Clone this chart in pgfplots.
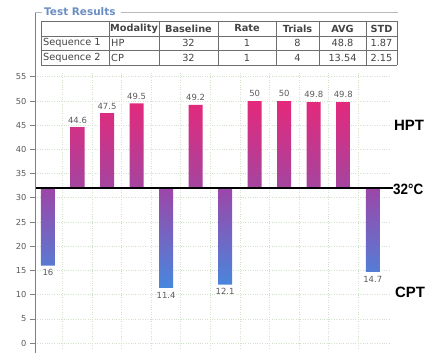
\documentclass[border=0pt]{standalone}
\usepackage{fontspec}
\setmainfont{DejaVu Sans}
\newfontfamily\labfont{Liberation Sans}
\usepackage{pgfplots}
\pgfplotsset{compat=1.18}
\definecolor{hpTop}{HTML}{E4297B}
\definecolor{hpBot}{HTML}{A4459F}
\definecolor{cpTop}{HTML}{9C46A8}
\definecolor{cpBot}{HTML}{4788DE}
\definecolor{gridc}{HTML}{D2E2CC}
\definecolor{tickc}{HTML}{5A5A5A}
\definecolor{axc}{HTML}{808080}
\definecolor{boxc}{HTML}{B8B8B8}
\definecolor{titc}{HTML}{6A8EC4}
\definecolor{tabc}{HTML}{6E6E6E}
\definecolor{txtc}{HTML}{444444}
\begin{document}
\begin{tikzpicture}[x=1bp,y=1bp]
\useasboundingbox (0,0) rectangle (429,353);
\begin{axis}[
  at={(35bp,5bp)}, anchor=south west,
  scale only axis, width=354bp, height=276bp,
  xmin=0.56, xmax=12.55, ymin=-33, ymax=24,
  y filter/.expression={y-32},
  axis line style={draw=none},
  ytick={-32,-27,-22,-17,-12,-7,-2,3,8,13,18,23},
  yticklabels={0,5,10,15,20,25,30,35,40,45,50,55},
  ytick pos=left, tick align=outside, major tick length=5bp,
  y tick style={color=axc, line width=0.8bp},
  xtick={1.5,2.5,...,11.5}, xticklabels={}, x tick style={draw=none},
  grid=major, major grid style={dotted, color=gridc, line width=0.8bp},
  yticklabel style={font=\fontsize{8.3}{9}\selectfont, text=tickc},
  clip=false,
  bar width=14bp,
]
\addplot[ybar, bar shift=0pt, draw=none, top color=hpTop, bottom color=hpBot,
  point meta=explicit symbolic, nodes near coords={\pgfplotspointmeta},
  nodes near coords style={font=\fontsize{8.5}{9}\selectfont, text=tickc, anchor=south, yshift=0.5bp}]
  coordinates {(2,44.6)[44.6] (3,47.5)[47.5] (4,49.5)[49.5] (6,49.2)[49.2] (8,50)[50] (9,50)[50] (10,49.8)[49.8] (11,49.8)[49.8]};
\addplot[ybar, bar shift=0pt, draw=none, top color=cpTop, bottom color=cpBot,
  point meta=explicit symbolic, nodes near coords={\pgfplotspointmeta},
  nodes near coords style={font=\fontsize{8.5}{9}\selectfont, text=tickc, anchor=north, yshift=-0.5bp}]
  coordinates {(1,16)[16] (5,11.4)[11.4] (7,12.1)[12.1] (12,14.7)[14.7]};
\addplot[black, line width=1.5bp, no marks, forget plot] coordinates {(0.56,32) (12.67,32)};
\end{axis}
% axis line and group box
\draw[axc, line width=1bp] (35,340.5) -- (35,0);
\draw[boxc, line width=1bp] (35,340.5) -- (42,340.5);
\draw[boxc, line width=1bp] (121,340.5) -- (398,340.5);
\node[anchor=west, inner sep=0pt, text=titc, font=\fontsize{10.5}{12}\selectfont\bfseries] at (44,341) {Test Results};
% table
\foreach \x in {41,109,159,218,276,319,366,397} \draw[tabc, line width=0.8bp] (\x,332) -- (\x,288);
\foreach \y in {332,317,303,288} \draw[tabc, line width=0.8bp] (41,\y) -- (397,\y);
\begin{scope}[every node/.style={inner sep=0pt, text=txtc, font=\fontsize{9.8}{11}\selectfont}]
\node[font=\fontsize{9.8}{11}\selectfont\bfseries] at (134,324.5) {Modality};
\node[font=\fontsize{9.8}{11}\selectfont\bfseries] at (188.5,324.5) {Baseline};
\node[font=\fontsize{9.8}{11}\selectfont\bfseries] at (247,324.5) {Rate};
\node[font=\fontsize{9.8}{11}\selectfont\bfseries] at (297.5,324.5) {Trials};
\node[font=\fontsize{9.8}{11}\selectfont\bfseries] at (342.5,324.5) {AVG};
\node[font=\fontsize{9.8}{11}\selectfont\bfseries] at (381.5,324.5) {STD};
\node[anchor=west] at (43,310) {Sequence 1};
\node[anchor=west] at (111,310) {HP};
\node at (188.5,310) {32};
\node at (247,310) {1};
\node at (297.5,310) {8};
\node at (342.5,310) {48.8};
\node at (381.5,310) {1.87};
\node[anchor=west] at (43,295.5) {Sequence 2};
\node[anchor=west] at (111,295.5) {CP};
\node at (188.5,295.5) {32};
\node at (247,295.5) {1};
\node at (297.5,295.5) {4};
\node at (342.5,295.5) {13.54};
\node at (381.5,295.5) {2.15};
\end{scope}
% side labels
\begin{scope}[every node/.style={inner sep=0pt, anchor=west, text=black, font=\labfont\fontsize{15}{16}\selectfont\bfseries}]
\node at (394,228) {HPT};
\node[xscale=0.9] at (393,163.5) {32{\textdegree}C};
\node at (395,61) {CPT};
\end{scope}
\end{tikzpicture}
\end{document}
